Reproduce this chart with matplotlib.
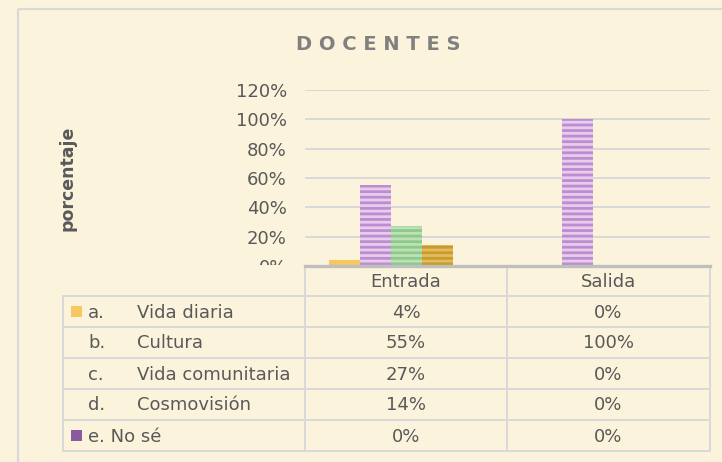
import numpy as np
import matplotlib.pyplot as plt
from matplotlib.patches import Rectangle

plt.rcParams['font.family'] = ['DejaVu Sans']
plt.rcParams['hatch.linewidth'] = 2.0

categories = ['Entrada', 'Salida']
series_letters = ['a.', 'b.', 'c.', 'd.', 'e.']
series_names = ['Vida diaria', 'Cultura', 'Vida comunitaria', 'Cosmovisión', 'No sé']
values = [
    [0.04, 0.00],
    [0.55, 1.00],
    [0.27, 0.00],
    [0.14, 0.00],
    [0.00, 0.00],
]
face_colors = ['#F6C85F', '#E6CDEC', '#BEE0B8', '#E3BC5C', '#8A5A9E']
hatch_colors = ['#F6C85F', '#BE8CD0', '#8DCA88', '#C99A2E', '#8A5A9E']
hatches = [None, '---', '---', '---', None]
yticks = [0, 0.2, 0.4, 0.6, 0.8, 1.0, 1.2]

bg = '#FCF3DC'
txt = '#595959'
grid_c = '#D9D9D9'

W, H = 722, 462
fig = plt.figure(figsize=(W / 100, H / 100), dpi=100, facecolor=bg)

def px(x0, y0, x1, y1):
    return [x0 / W, 1 - y1 / H, (x1 - x0) / W, (y1 - y0) / H]

ax = fig.add_axes(px(305, 90, 710, 266))
ax.set_facecolor(bg)
n = len(values)
bw = 0.153
x = np.arange(len(categories))
for i, vals in enumerate(values):
    ax.bar(x + (i - (n - 1) / 2) * bw, vals, bw, color=face_colors[i],
           edgecolor=hatch_colors[i], linewidth=0, hatch=hatches[i], zorder=3)
ax.set_xlim(-0.5, 1.5)
ax.set_ylim(0, 1.2)
ax.set_yticks(yticks)
ax.set_yticklabels([f'{int(round(t * 100))}%' for t in yticks])
ax.tick_params(axis='y', length=0, pad=13, labelsize=13, labelcolor=txt)
ax.set_xticks([])
ax.grid(axis='y', color=grid_c, linewidth=1.4, zorder=0)
for s in ax.spines.values():
    s.set_visible(False)

fig.text(378 / W, 1 - 44 / H, 'D O C E N T E S', ha='center', va='center',
         fontsize=14, fontweight='bold', color='#808080')
fig.text(67 / W, 1 - 178 / H, 'porcentaje', rotation=90, ha='center', va='center',
         fontsize=12.5, fontweight='bold', color=txt)

# data table overlay
t = fig.add_axes([0, 0, 1, 1], zorder=5)
t.set_xlim(0, W)
t.set_ylim(H, 0)
t.axis('off')
t.patch.set_visible(False)
t.add_patch(Rectangle((20, 265), W, H, facecolor=bg, edgecolor='none'))
t.add_patch(Rectangle((18, 9), W, H, facecolor='none', edgecolor=grid_c, linewidth=1.6))

col_x = [63, 305, 507, 710]
row_y = [266, 296, 327, 358, 389, 420, 451]
lw = 1.4
for xc in col_x[1:]:
    t.plot([xc, xc], [row_y[0], row_y[-1]], color=grid_c, lw=lw)
t.plot([col_x[0], col_x[0]], [row_y[1], row_y[-1]], color=grid_c, lw=lw)
for yr in row_y[1:]:
    t.plot([col_x[0], col_x[-1]], [yr, yr], color=grid_c, lw=lw)
t.plot([col_x[1], col_x[-1]], [row_y[0], row_y[0]], color='#BFBFBF', lw=2.4)

fs = 13
for j, c in enumerate(categories):
    t.text((col_x[j + 1] + col_x[j + 2]) / 2, (row_y[0] + row_y[1]) / 2 + 1, c,
           ha='center', va='center', fontsize=fs, color=txt)
for i in range(n):
    yc = (row_y[i + 1] + row_y[i + 2]) / 2 + 1
    if i == n - 1:
        t.text(88, yc, f'{series_letters[i]} {series_names[i]}', ha='left', va='center',
               fontsize=fs, color=txt)
    else:
        t.text(88, yc, series_letters[i], ha='left', va='center', fontsize=fs, color=txt)
        t.text(137, yc, series_names[i], ha='left', va='center', fontsize=fs, color=txt)
    if hatches[i] is None:
        t.add_patch(Rectangle((71, yc - 6.5), 11, 11, facecolor=face_colors[i], edgecolor='none'))
    for j in range(len(categories)):
        t.text((col_x[j + 1] + col_x[j + 2]) / 2, yc, f'{int(round(values[i][j] * 100))}%',
               ha='center', va='center', fontsize=fs, color=txt)

fig.savefig('out.png', dpi=100, facecolor=bg)
